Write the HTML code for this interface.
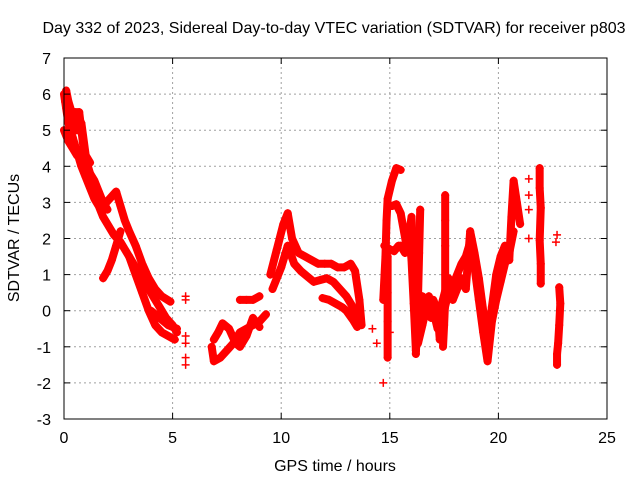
<!DOCTYPE html>
<html><head><meta charset="utf-8"><style>
body{margin:0;background:#fff}
svg text{font-family:"Liberation Sans",sans-serif;font-size:16px;fill:#000}
</style></head><body>
<svg id="chart" width="640" height="480" xmlns="http://www.w3.org/2000/svg">
<rect width="640" height="480" fill="#fff"/>
<text x="334" y="33" text-anchor="middle">Day 332 of 2023, Sidereal Day-to-day VTEC variation (SDTVAR) for receiver p803</text>
<text x="335" y="471" text-anchor="middle">GPS time / hours</text>
<text transform="translate(19,238) rotate(-90)" text-anchor="middle">SDTVAR / TECUs</text>
<g id="grid"></g>
<g id="marks"></g>
<rect x="64" y="58" width="543" height="361" fill="none" stroke="#000" stroke-width="1"/>
<g id="ticks"></g>
</svg>
<script>
const xTicks=[0,5,10,15,20,25];
const yTicks=[-3,-2,-1,0,1,2,3,4,5,6,7];
const trackA=[[0,6.0],[0.1,5.6],[0.2,5.2],[0.4,4.8],[0.6,4.4],[0.8,4.0],[1.0,3.7],[1.2,3.4],[1.4,3.1],[1.6,2.9],[1.8,2.6],[2.0,2.4],[2.3,2.1],[2.6,1.9],[2.9,1.6],[3.2,1.3],[3.5,1.0],[3.8,0.7],[4.1,0.4],[4.4,0.1],[4.7,-0.2],[5.0,-0.4],[5.2,-0.6]];
const trackB=[[0.05,5.8],[0.3,5.3],[0.5,5.5],[0.7,5.5],[0.9,4.5],[1.1,4.0],[1.3,3.6],[1.5,3.2],[1.8,2.9],[2.1,3.1],[2.4,3.3],[2.6,2.9],[2.8,2.5],[3.0,2.2],[3.3,1.8],[3.6,1.3],[3.9,0.9],[4.2,0.6],[4.5,0.4],[4.9,0.25]];
const trackB2=[[0.0,5.0],[0.2,4.7],[0.4,4.5],[0.6,4.3],[0.8,4.2],[1.0,4.0],[1.2,3.8],[1.4,3.6],[1.6,3.3],[1.8,3.0],[2.0,2.8]];
const trackB3=[[0.1,6.1],[0.2,5.8],[0.4,5.4],[0.6,5.0],[0.8,5.2],[1.0,4.3],[1.2,4.1]];
const trackC=[[2.6,2.2],[2.4,1.8],[2.2,1.4],[2.0,1.1],[1.8,0.9]];
const trackD=[[3.0,1.5],[3.3,1.0],[3.6,0.5],[3.9,0.0],[4.2,-0.4],[4.5,-0.6],[4.8,-0.7],[5.1,-0.8]];
const trackE=[[4.0,0.0],[4.4,-0.2],[4.8,-0.4],[5.2,-0.5]];
const clusters=[[5.6,0.4],[5.6,0.3],[5.6,-0.7],[5.6,-0.9],[5.6,-1.3],[5.6,-1.5],[14.2,-0.5],[14.4,-0.9],[14.7,-2.0],[15.0,-0.6],[21.4,3.65],[21.4,3.2],[21.4,2.8],[21.4,2.0],[22.7,2.1],[22.65,1.9]];
const trackF1=[[6.8,-1.0],[6.9,-1.4],[7.2,-1.3],[7.5,-1.1],[7.8,-0.9],[8.1,-0.6],[8.4,-0.5],[8.7,-0.4],[9.0,-0.3],[9.3,-0.1]];
const trackF2=[[6.9,-0.8],[7.1,-0.6],[7.3,-0.35],[7.6,-0.5],[7.9,-0.9],[8.1,-1.0],[8.4,-0.7],[8.7,-0.2],[9.0,-0.45]];
const trackF3=[[8.1,0.3],[8.4,0.3],[8.7,0.3],[9.0,0.4]];
const trackG1=[[9.5,1.0],[9.8,1.7],[10.1,2.4],[10.3,2.7],[10.5,2.0],[10.8,1.6],[11.1,1.5],[11.4,1.4],[11.7,1.3],[12.0,1.3],[12.3,1.3],[12.6,1.2],[12.9,1.2],[13.2,1.3],[13.4,1.1],[13.6,0.3],[13.7,-0.4]];
const trackG2=[[9.6,0.6],[10.0,1.2],[10.3,1.8],[10.6,1.3],[10.9,1.1],[11.2,0.95],[11.5,0.8],[11.8,0.85],[12.1,0.9],[12.4,0.8],[12.7,0.6],[13.0,0.4],[13.3,0.1],[13.5,-0.3]];
const trackG3=[[11.9,0.35],[12.2,0.3],[12.5,0.2],[12.8,0.1],[13.0,0.0],[13.3,-0.25],[13.5,-0.45]];
const trackH1=[[14.7,0.3],[14.8,1.5],[14.85,2.5],[14.9,3.1],[15.1,3.6],[15.3,3.95],[15.5,3.9]];
const trackH2=[[14.75,1.8],[15.0,1.7],[15.2,1.65],[15.4,1.8],[15.5,1.8],[15.7,1.6],[15.9,2.2],[16.0,1.4],[16.1,0.2],[16.2,-1.1],[16.3,-0.2],[16.5,0.4],[16.7,0.0],[16.9,-0.2],[17.0,0.3],[17.2,0.0],[17.3,-0.8],[17.5,0.0],[17.7,0.5],[17.9,0.7],[18.1,1.0],[18.3,1.3],[18.5,1.5],[18.7,1.9],[18.9,1.2],[19.1,0.3],[19.3,-0.6],[19.5,-1.4],[19.7,-0.3],[19.9,0.3],[20.1,0.8],[20.3,1.3],[20.5,1.6],[20.7,2.2]];
const trackH3=[[15.1,2.9],[15.3,2.95],[15.5,2.7],[15.8,1.7],[16.0,2.6],[16.1,1.2],[16.3,-0.9],[16.5,-0.4],[16.8,0.4],[17.0,0.0],[17.2,-0.5],[17.4,0.2],[17.7,0.9],[17.9,0.3],[18.1,0.6],[18.3,0.9],[18.5,0.6],[18.7,2.2],[18.9,1.6],[19.1,0.9],[19.3,0.0],[19.5,-0.9],[19.7,0.1],[19.9,1.0],[20.1,1.5],[20.3,1.8]];
const trackS1=[[14.9,1.5],[14.9,0.5],[14.9,-0.3],[14.9,-1.3]];
const trackS2=[[16.4,2.8],[16.35,1.6],[16.3,0.4],[16.2,-1.2]];
const trackS3=[[17.55,3.2],[17.55,2.5],[17.55,1.8],[17.55,1.0],[17.55,0.3],[17.5,-0.4],[17.45,-1.0]];
const trackT=[[20.5,1.4],[20.6,2.6],[20.7,3.6],[20.85,3.0],[21.0,2.4]];
const trackU=[[21.9,3.95],[21.9,3.4],[21.95,2.85],[21.9,1.95],[21.95,1.3],[21.95,0.75]];
const trackV=[[22.8,0.65],[22.85,0.2],[22.8,-0.4],[22.75,-0.9],[22.7,-1.2],[22.7,-1.5]];
const tracks=[trackA,trackB,trackB2,trackB3,trackC,trackD,trackE,trackF1,trackF2,trackF3,trackG1,trackG2,trackG3,trackH1,trackH2,trackH3,trackS1,trackS2,trackS3,trackT,trackU,trackV];
const X0=64,X1=607,Y0=419,Y1=58;
function xs(t){return X0+(t-0)/(25-0)*(X1-X0);}
function ys(v){return Y0-(v+3)/(7+3)*(Y0-Y1);}
const NS="http://www.w3.org/2000/svg";
const grid=document.getElementById('grid'),ticks=document.getElementById('ticks'),marks=document.getElementById('marks');
function mk(tag,attrs,parent){const e=document.createElementNS(NS,tag);for(const k in attrs)e.setAttribute(k,attrs[k]);parent.appendChild(e);return e;}
xTicks.forEach(t=>{const x=xs(t);
 if(t>0&&t<25){const g=mk('line',{x1:x,x2:x,y1:Y0,y2:Y1,stroke:'#a0a0a0','stroke-dasharray':'2,3'},grid);}
 mk('line',{x1:x,x2:x,y1:Y0,y2:Y0-6,stroke:'#000'},ticks);mk('line',{x1:x,x2:x,y1:Y1,y2:Y1+6,stroke:'#000'},ticks);
 const l=mk('text',{x:x,y:443,'text-anchor':'middle'},ticks);l.textContent=t;
 
 });
yTicks.forEach(v=>{const y=ys(v);
 if(v>-3&&v<7){const g=mk('line',{x1:X0,x2:X1,y1:y,y2:y,stroke:'#a0a0a0','stroke-dasharray':'2,3'},grid);}
 mk('line',{x1:X0,x2:X0+6,y1:y,y2:y,stroke:'#000'},ticks);mk('line',{x1:X1,x2:X1-6,y1:y,y2:y,stroke:'#000'},ticks);
 const l=mk('text',{x:51,y:y+6,'text-anchor':'end'},ticks);l.textContent=v;
 
 });
tracks.forEach(tr=>{
 if(tr.length>1){const p=mk('polyline',{points:tr.map(d=>xs(d[0])+','+ys(d[1])).join(' '),fill:'none',stroke:'#f00','stroke-width':8,'stroke-linejoin':'round','stroke-linecap':'round'},marks);
 
 }
});
[...tracks,clusters].forEach(tr=>tr.forEach(d=>{const x=xs(d[0]),y=ys(d[1]);
 const m=mk('path',{d:`M${x-4},${y}H${x+4}M${x},${y-4}V${y+4}`,stroke:'#f00','stroke-width':1.5},marks);
 
 }));
</script>
</body></html>
